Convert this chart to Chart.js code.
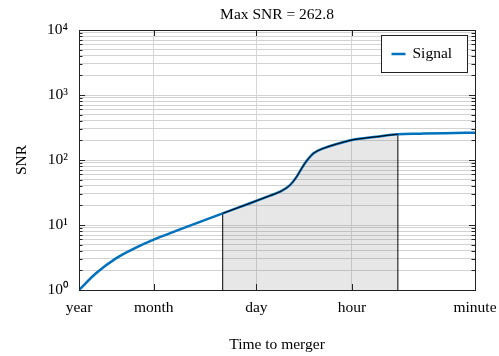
<!DOCTYPE html>
<html>
<head>
<meta charset="utf-8">
<script src="https://cdn.jsdelivr.net/npm/chart.js@4.4.0/dist/chart.umd.min.js"></script>
<style>
  body { margin: 0; background: #fff; }
  canvas { display: block; }
</style>
</head>
<body>
<canvas id="snr-chart" width="499" height="356"></canvas>
<script>
// time to merger in minutes, and the accumulated SNR at that time
const timeToMerger = [525600, 298700, 153600, 78940, 42950, 20860, 10730, 4413, 1780, 915, 656, 470, 376, 319, 270, 217, 155, 99.5, 60, 26.3, 13, 6.2, 2.7, 1];
const snr = [1.0, 1.81, 3.07, 4.48, 6.0, 8.1, 10.6, 15.1, 21.6, 28.3, 32.5, 41.2, 55.5, 74.5, 97, 126, 151, 176, 203, 228, 249, 254, 259, 262.8];

const xTickTimes = [525600, 43800, 1440, 60, 1];
const xTickLabels = ['year', 'month', 'day', 'hour', 'minute'];
const yDecades = [1, 10, 100, 1000, 10000];
const yTickLabels = ['10⁰', '10¹', '10²', '10³', '10⁴'];

// shaded window (minutes before merger)
const bandStart = 4413;
const bandEnd = 13;

const SERIF = '"Liberation Serif", "Times New Roman", serif';
const BLUE = '#0072BD';
const FONT_SIZE = 15.5;

Chart.defaults.font.family = SERIF;
Chart.defaults.font.size = FONT_SIZE;
Chart.defaults.color = '#000';

const points = timeToMerger.map((t, i) => ({ x: t, y: snr[i] }));
const iStart = timeToMerger.indexOf(bandStart);
const iEnd = timeToMerger.indexOf(bandEnd);
const inBand = ctx => ctx.p0DataIndex >= iStart && ctx.p1DataIndex <= iEnd;
const titleText = 'Max SNR = ' + Math.max(...snr).toFixed(1);

// minor grid: 1..9 of every decade
const yGrid = [];
yDecades.forEach((d, i) => {
  if (i === yDecades.length - 1) { yGrid.push(d); return; }
  for (let k = 1; k < 10; k++) yGrid.push(k * d);
});

// box round the axes, inward tick marks
const frame = {
  id: 'frame',
  afterDatasetsDraw(chart) {
    const { ctx, chartArea: { left, right, top, bottom }, scales: { x, y } } = chart;
    ctx.save();
    ctx.strokeStyle = '#222';
    ctx.lineWidth = 1;
    ctx.beginPath();
    y.ticks.forEach(t => {
      const py = Math.round(y.getPixelForValue(t.value)) + 0.5;
      const len = yDecades.includes(t.value) ? 6 : 3.5;
      ctx.moveTo(left, py); ctx.lineTo(left + len, py);
      ctx.moveTo(right, py); ctx.lineTo(right - len, py);
    });
    x.ticks.forEach(t => {
      const px = Math.round(x.getPixelForValue(t.value)) + 0.5;
      ctx.moveTo(px, bottom); ctx.lineTo(px, bottom - 6);
      ctx.moveTo(px, top); ctx.lineTo(px, top + 6);
    });
    ctx.stroke();
    ctx.strokeRect(Math.round(left) + 0.5, Math.round(top) + 0.5,
      Math.round(right - left), Math.round(bottom - top));
    ctx.restore();
  }
};

// title centred over the axes, legend inside the axes top right
const annotate = {
  id: 'annotate',
  afterDraw(chart) {
    const { ctx, chartArea: { left, right, top } } = chart;
    ctx.save();
    ctx.fillStyle = '#000';
    ctx.font = FONT_SIZE + 'px ' + SERIF;
    ctx.textAlign = 'center';
    ctx.textBaseline = 'middle';
    ctx.fillText(titleText, (left + right) / 2, 14.5);

    const w = 86, h = 37;
    const bx = Math.round(right - 8 - w) + 0.5;
    const by = Math.round(top + 5) + 0.5;
    ctx.fillStyle = '#fff';
    ctx.fillRect(bx, by, w, h);
    ctx.strokeStyle = '#222';
    ctx.lineWidth = 1;
    ctx.strokeRect(bx, by, w, h);
    const cy = by + h / 2;
    ctx.strokeStyle = BLUE;
    ctx.lineWidth = 2.5;
    ctx.beginPath();
    ctx.moveTo(bx + 10, cy); ctx.lineTo(bx + 24, cy);
    ctx.stroke();
    ctx.fillStyle = '#000';
    ctx.textAlign = 'left';
    ctx.fillText(chart.data.datasets[1].label, bx + 31, cy);
    ctx.restore();
  }
};

new Chart(document.getElementById('snr-chart'), {
  type: 'line',
  data: {
    datasets: [
      {
        label: 'window',
        data: points,
        cubicInterpolationMode: 'monotone',
        borderWidth: 1,
        pointRadius: 0,
        fill: 'start',
        segment: {
          borderColor: ctx => inBand(ctx) ? '#000' : 'transparent',
          backgroundColor: ctx => inBand(ctx) ? 'rgba(120,120,120,0.18)' : 'transparent'
        }
      },
      {
        label: 'Signal',
        data: points,
        borderColor: BLUE,
        borderWidth: 2.5,
        cubicInterpolationMode: 'monotone',
        pointRadius: 0,
        fill: false
      },
      {
        label: 'start edge',
        data: [{ x: bandStart, y: yDecades[0] }, { x: bandStart, y: snr[iStart] }],
        borderColor: '#000', borderWidth: 1, pointRadius: 0, fill: false
      },
      {
        label: 'end edge',
        data: [{ x: bandEnd, y: yDecades[0] }, { x: bandEnd, y: snr[iEnd] }],
        borderColor: '#000', borderWidth: 1, pointRadius: 0, fill: false
      }
    ]
  },
  options: {
    responsive: false,
    animation: false,
    layout: { padding: { left: 0, right: 24, top: 30, bottom: 0 } },
    plugins: {
      legend: { display: false },
      tooltip: { enabled: false },
      title: { display: false },
      filler: { drawTime: 'beforeDatasetsDraw' }
    },
    scales: {
      x: {
        type: 'logarithmic',
        reverse: true,
        min: xTickTimes[xTickTimes.length - 1],
        max: xTickTimes[0],
        afterBuildTicks: scale => { scale.ticks = xTickTimes.map(v => ({ value: v })); },
        afterFit: scale => {
          scale.height = 66;
          scale.paddingLeft = 0;
          scale.paddingRight = 0;
        },
        ticks: {
          autoSkip: false,
          maxRotation: 0,
          padding: 9,
          callback: v => xTickLabels[xTickTimes.indexOf(v)]
        },
        grid: {
          drawTicks: false,
          color: ctx => (ctx.tick && (ctx.tick.value === xTickTimes[0] || ctx.tick.value === 1)) ? 'transparent' : '#d6d6d6'
        },
        border: { display: false },
        title: {
          display: true,
          text: 'Time to merger',
          font: { size: FONT_SIZE },
          padding: { top: 0, bottom: 2 }
        }
      },
      y: {
        type: 'logarithmic',
        min: yDecades[0],
        max: yDecades[yDecades.length - 1],
        afterBuildTicks: scale => { scale.ticks = yGrid.map(v => ({ value: v })); },
        afterFit: scale => { scale.width = 79; },
        ticks: {
          autoSkip: false,
          padding: 11,
          callback: v => {
            const i = yDecades.indexOf(v);
            return i >= 0 ? yTickLabels[i] : '';
          }
        },
        grid: { drawTicks: false, color: '#d2d2d2' },
        border: { display: false },
        title: {
          display: true,
          text: 'SNR',
          font: { size: FONT_SIZE },
          padding: { top: 13, bottom: 0 }
        }
      }
    }
  },
  plugins: [frame, annotate]
});
</script>
</body>
</html>
